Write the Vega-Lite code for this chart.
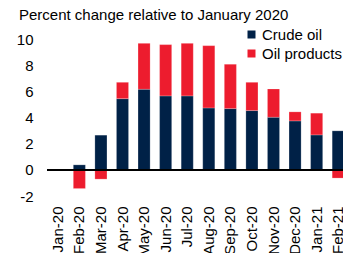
{
  "$schema": "https://vega.github.io/schema/vega-lite/v6.json",
  "autosize": "none",
  "padding": {"left": 47, "top": 39, "right": 0, "bottom": 57},
  "width": 302,
  "height": 157,
  "config": {
    "font": "Liberation Sans",
    "view": {"stroke": null},
    "axis": {"labelFont": "Liberation Sans", "labelFontSize": 15, "labelColor": "#000", "grid": false, "ticks": false, "domain": false, "title": null, "labelOverlap": false},
    "axisY": {"labelOverlap": false},
    "legend": {"labelFont": "Liberation Sans", "labelFontSize": 15, "labelColor": "#000"}
  },
  "title": {"text": "Percent change relative to January 2020", "anchor": "start", "frame": "group", "fontSize": 15, "fontWeight": "normal", "font": "Liberation Sans", "color": "#000", "dx": -28, "offset": 4},
  "data": {"values": [
    {"month": "Jan-20", "series": "Crude oil", "value": 0},
    {"month": "Jan-20", "series": "Oil products", "value": 0},
    {"month": "Feb-20", "series": "Crude oil", "value": 0.38},
    {"month": "Feb-20", "series": "Oil products", "value": -1.43},
    {"month": "Mar-20", "series": "Crude oil", "value": 2.65},
    {"month": "Mar-20", "series": "Oil products", "value": -0.71},
    {"month": "Apr-20", "series": "Crude oil", "value": 5.44},
    {"month": "Apr-20", "series": "Oil products", "value": 1.25},
    {"month": "May-20", "series": "Crude oil", "value": 6.16},
    {"month": "May-20", "series": "Oil products", "value": 3.51},
    {"month": "Jun-20", "series": "Crude oil", "value": 5.65},
    {"month": "Jun-20", "series": "Oil products", "value": 3.92},
    {"month": "Jul-20", "series": "Crude oil", "value": 5.65},
    {"month": "Jul-20", "series": "Oil products", "value": 4.02},
    {"month": "Aug-20", "series": "Crude oil", "value": 4.73},
    {"month": "Aug-20", "series": "Oil products", "value": 4.76},
    {"month": "Sep-20", "series": "Crude oil", "value": 4.68},
    {"month": "Sep-20", "series": "Oil products", "value": 3.39},
    {"month": "Oct-20", "series": "Crude oil", "value": 4.53},
    {"month": "Oct-20", "series": "Oil products", "value": 2.16},
    {"month": "Nov-20", "series": "Crude oil", "value": 4.02},
    {"month": "Nov-20", "series": "Oil products", "value": 2.16},
    {"month": "Dec-20", "series": "Crude oil", "value": 3.74},
    {"month": "Dec-20", "series": "Oil products", "value": 0.69},
    {"month": "Jan-21", "series": "Crude oil", "value": 2.67},
    {"month": "Jan-21", "series": "Oil products", "value": 1.66},
    {"month": "Feb-21", "series": "Crude oil", "value": 2.98},
    {"month": "Feb-21", "series": "Oil products", "value": -0.63}
  ]},
  "layer": [
    {
      "mark": {"type": "bar", "stroke": "#ffffff", "strokeWidth": 0.4, "strokeOpacity": 0.5},
      "encoding": {
        "x": {"field": "month", "type": "nominal", "sort": null,
              "scale": {"paddingInner": 0.44, "paddingOuter": 0.22},
              "axis": {"labelAngle": -90, "labelPadding": 10, "orient": "bottom"}},
        "y": {"field": "value", "type": "quantitative", "stack": "zero",
              "scale": {"domain": [-2, 10], "nice": false},
              "axis": {"values": [-2, 0, 2, 4, 6, 8, 10], "labelExpr": "datum.value + ''", "labelPadding": 14, "labelOverlap": false, "labelFlush": false, "labelBound": false}},
        "order": {"field": "series", "sort": "ascending"},
        "color": {"field": "series", "type": "nominal",
                  "scale": {"domain": ["Crude oil", "Oil products"], "range": ["#002147", "#ED1C2E"]},
                  "legend": {"title": null, "orient": "none", "legendX": 197, "legendY": -12, "symbolType": "square", "symbolSize": 64, "labelOffset": 3, "rowPadding": 3, "symbolStrokeWidth": 0}}
      }
    },
    {
      "mark": {"type": "rule", "color": "#000", "strokeWidth": 1},
      "encoding": {"y": {"datum": 0, "type": "quantitative",
              "axis": {"values": [-2, 0, 2, 4, 6, 8, 10], "labelExpr": "datum.value + ''", "labelPadding": 14, "labelOverlap": false, "labelFlush": false, "labelBound": false}}}
    }
  ]
}
